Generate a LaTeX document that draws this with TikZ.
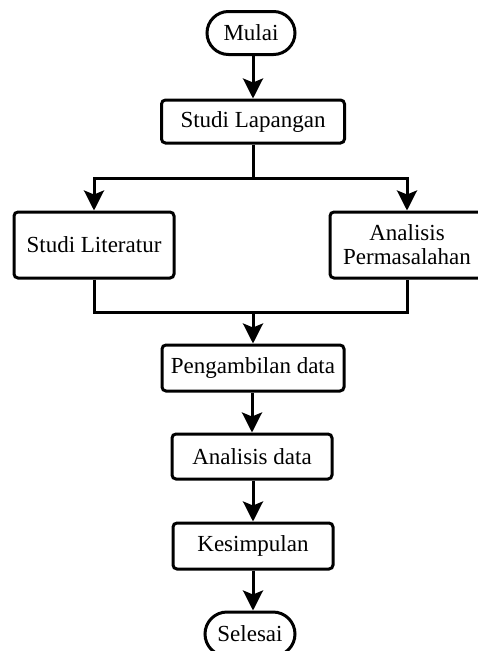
\documentclass[tikz,border=0pt]{standalone}
\usepackage{fontspec}
\setmainfont{Liberation Serif}
\usetikzlibrary{arrows.meta,shapes.misc}

\begin{document}
\begin{tikzpicture}[x=1pt,y=-1pt,line width=3pt,
    font=\fontsize{23}{27}\selectfont,
    stepbox/.style={draw,rounded corners=4pt,align=center,inner sep=0pt},
    terminal/.style={draw,rounded rectangle,inner sep=0pt,minimum width=88pt,minimum height=43pt}]
  \useasboundingbox (0,0) rectangle (477,651);
  \draw
    (251,33) node[terminal] (mulai){Mulai}
    (253,121.5) node[stepbox,minimum width=183pt,minimum height=43pt] (lapangan){Studi Lapangan}
    (94,245) node[stepbox,minimum width=160pt,minimum height=66pt] (literatur){Studi Literatur}
    (407,245) node[stepbox,minimum width=154pt,minimum height=66pt] (masalah){Analisis\\[-3pt]Permasalahan}
    (253,368) node[stepbox,minimum width=182pt,minimum height=46pt] (pengambilan){Pengambilan data}
    (252,456.5) node[stepbox,minimum width=160pt,minimum height=45pt] (analisis){Analisis data}
    (253,546) node[stepbox,minimum width=160pt,minimum height=46pt] (kesimpulan){Kesimpulan}
    (250,634) node[terminal,minimum width=90pt,minimum height=44pt] (selesai){Selesai};
  \coordinate (cabang) at (253,178);
  \coordinate (gabung) at (253,312);
  \begin{scope}[-{Stealth[length=20pt,width=20pt,inset=4pt]}]
    \draw (mulai.south -| lapangan) -- (lapangan);
    \draw (lapangan) -- (cabang) -| (literatur);
    \draw (cabang) -| (masalah);
    \draw (gabung) -- (pengambilan);
    \draw (pengambilan.south -| analisis.north) -- (analisis);
    \draw (analisis.south -| kesimpulan.north) -- (kesimpulan);
    \draw (kesimpulan) -- (kesimpulan.south |- selesai.north);
  \end{scope}
  \draw (literatur) |- (gabung) -| (masalah);
\end{tikzpicture}
\end{document}
